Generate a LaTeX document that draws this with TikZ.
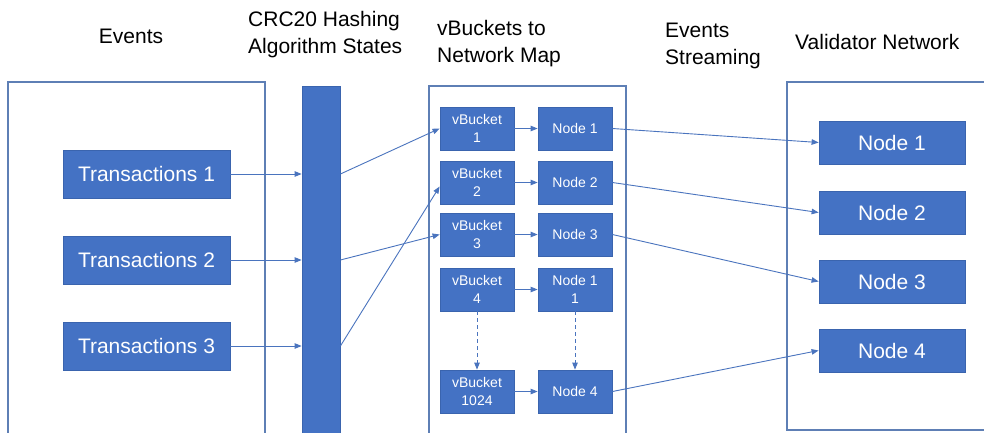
\documentclass[tikz,border=0pt]{standalone}
\usepackage{fontspec}
\setmainfont{Liberation Sans}
\usetikzlibrary{arrows.meta,positioning}
\definecolor{boxblue}{HTML}{4472C4}
\definecolor{boxedge}{HTML}{3A64AE}
\definecolor{framecol}{HTML}{5E7FB5}
\definecolor{linkcol}{HTML}{4A74BE}
\tikzset{
  bigbox/.style={draw=boxedge, fill=boxblue, text=white, line width=0.8pt,
    minimum height=48pt, inner sep=0pt, font=\fontsize{21}{25}\selectfont},
  smallbox/.style={draw=boxedge, fill=boxblue, text=white, line width=0.8pt,
    minimum width=74pt, minimum height=43pt, inner sep=0pt, align=center,
    font=\fontsize{14}{18}\selectfont},
  vnode/.style={draw=boxedge, fill=boxblue, text=white, line width=0.8pt,
    minimum width=146pt, minimum height=43pt, inner sep=0pt,
    font=\fontsize{21}{25}\selectfont},
  frame/.style={draw=framecol, line width=1.1pt},
  header/.style={align=left, inner sep=0pt, font=\fontsize{21}{27}\selectfont},
  link/.style={draw=linkcol, line width=0.9pt, -{Triangle[length=7pt,width=5.5pt]}},
  dlink/.style={link, dash pattern=on 4pt off 3pt}
}
\begin{document}
\begin{tikzpicture}[x=1pt, y=-1pt]
\useasboundingbox (0,0) rectangle (984,432);
\clip (0,0) rectangle (984,432);
\fill[white] (0,0) rectangle (984,432);

% column headings
\node[header] (hEvents) at (131,36) {Events};
\node[header, anchor=west] (hHash) at (248,35) {CRC20 Hashing\\Algorithm States};
\node[header, anchor=west] (hMap) at (437,44) {vBuckets to\\Network Map};
\node[header, anchor=west] (hStream) at (665,46) {Events\\Streaming};
\node[header, anchor=west] (hValid) at (795,42) {Validator Network};

% outer frames
\draw[frame] (8,82) rectangle (265,445);
\draw[frame] (429,86) rectangle (626,445);
\draw[frame] (787,82) rectangle (995,430);

% events
\node[bigbox, minimum width=167pt] (t1) at (146.5,174) {Transactions 1};
\node[bigbox, minimum width=167pt] (t2) at (146.5,260) {Transactions 2};
\node[bigbox, minimum width=167pt] (t3) at (146.5,346) {Transactions 3};

% hashing bar
\node[draw=boxedge, fill=boxblue, line width=0.8pt, minimum width=38pt,
  minimum height=360pt, inner sep=0pt] (hash) at (321,266) {};

% vbucket map
\node[smallbox] (vb1) at (477,128.5) {vBucket\\1};
\node[smallbox] (vb2) at (477,182.5) {vBucket\\2};
\node[smallbox] (vb3) at (477,234.5) {vBucket\\3};
\node[smallbox] (vb4) at (477,289.5) {vBucket\\4};
\node[smallbox] (vb5) at (477,391.5) {vBucket\\1024};
\node[smallbox] (m1) at (575,128.5) {Node 1};
\node[smallbox] (m2) at (575,182.5) {Node 2};
\node[smallbox] (m3) at (575,234.5) {Node 3};
\node[smallbox] (m4) at (575,289.5) {Node 1\\1};
\node[smallbox] (m5) at (575,391.5) {Node 4};

% validator network
\node[vnode] (r1) at (892,142.5) {Node 1};
\node[vnode] (r2) at (892,212.5) {Node 2};
\node[vnode] (r3) at (892,281.5) {Node 3};
\node[vnode] (r4) at (892,350.5) {Node 4};

% events into hashing
\draw[link] (t1.east) -- (t1 -| hash.west);
\draw[link] (t2.east) -- (t2 -| hash.west);
\draw[link] (t3.east) -- (t3 -| hash.west);

% hashing into vbuckets
\draw[link] (t1 -| hash.east) -- (vb1.west);
\draw[link] (t2 -| hash.east) -- (vb3.west);
\draw[link] (t3 -| hash.east) -- ([yshift=-4pt]vb2.west);

% vbucket to node
\draw[link] (vb1) -- (m1);
\draw[link] (vb2) -- (m2);
\draw[link] (vb3) -- (m3);
\draw[link] (vb4) -- (m4);
\draw[link] (vb5) -- (m5);
\draw[dlink] (vb4) -- (vb5);
\draw[dlink] (m4) -- (m5);

% streaming to validators
\draw[link] (m1.east) -- (r1.west);
\draw[link] (m2.east) -- (r2.west);
\draw[link] (m3.east) -- (r3.west);
\draw[link] (m5.east) -- (r4.west);
\end{tikzpicture}
\end{document}
